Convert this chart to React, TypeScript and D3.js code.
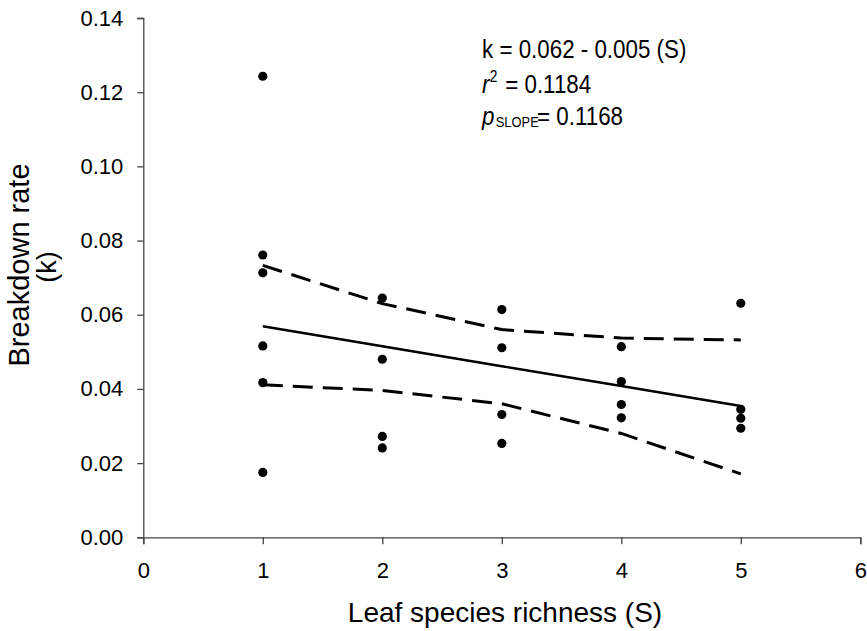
import React, { useRef, useEffect } from 'react';
import * as d3 from 'd3';

// leaf species richness (S) and the breakdown rates measured at each level
const richness = [1, 2, 3, 4, 5];
const rateS1 = [0.1243, 0.0761, 0.0713, 0.0516, 0.0417, 0.0175];
const rateS2 = [0.0645, 0.048, 0.0272, 0.0241];
const rateS3 = [0.0614, 0.0511, 0.0331, 0.0253];
const rateS4 = [0.0514, 0.042, 0.0358, 0.0322];
const rateS5 = [0.0631, 0.0345, 0.0321, 0.0294];

// fitted line and confidence band, read at each S
const fitted = [0.0569, 0.0515, 0.0461, 0.0408, 0.0354];
const upperBand = [0.0733, 0.063, 0.056, 0.0537, 0.0532];
const lowerBand = [0.0411, 0.0396, 0.036, 0.028, 0.0171];

const xTicks = [0, 1, 2, 3, 4, 5, 6];
const yTicks = [0, 0.02, 0.04, 0.06, 0.08, 0.1, 0.12, 0.14];

const W = 867, H = 631;
const FONT = '"Liberation Sans", Arial, sans-serif';

const App = () => {
    const ref = useRef<SVGSVGElement>(null);

    useEffect(() => {
        const svg = d3.select(ref.current);
        svg.selectAll('*').remove();

        const x = d3.scaleLinear().domain([0, 6]).range([143.3, 860.3]);
        const y = d3.scaleLinear().domain([0, 0.14]).range([537.3, 18]);

        // axes
        const yAxis = svg.append('g')
            .attr('transform', `translate(${x(0)},0)`)
            .call(d3.axisLeft(y).tickValues(yTicks).tickFormat(d3.format('.2f')).tickSize(6).tickPadding(14));
        const xAxis = svg.append('g')
            .attr('transform', `translate(0,${y(0)})`)
            .call(d3.axisBottom(x).tickValues(xTicks).tickFormat(d3.format('d')).tickSize(7).tickPadding(18));

        [yAxis, xAxis].forEach((ax) => {
            ax.selectAll('path, line').attr('stroke', '#444').attr('stroke-width', 1.3);
            ax.selectAll('text').attr('fill', '#000').style('font-size', '22px').style('font-family', FONT);
        });

        // confidence band and regression line
        const line = d3.line<number>()
            .x((d, i) => x(richness[i]))
            .y((d) => y(d));

        svg.append('path').attr('d', line(upperBand))
            .attr('fill', 'none').attr('stroke', '#000').attr('stroke-width', 3)
            .attr('stroke-dasharray', '20 10');
        svg.append('path').attr('d', line(lowerBand))
            .attr('fill', 'none').attr('stroke', '#000').attr('stroke-width', 3)
            .attr('stroke-dasharray', '20 10');
        svg.append('path').attr('d', line(fitted))
            .attr('fill', 'none').attr('stroke', '#000').attr('stroke-width', 2.4);

        // observations
        const groups = [rateS1, rateS2, rateS3, rateS4, rateS5];
        const points: { s: number; k: number }[] = [];
        groups.forEach((vals, i) => {
            vals.forEach((k) => points.push({ s: richness[i], k }));
        });

        svg.append('g').selectAll('circle')
            .data(points)
            .enter().append('circle')
            .attr('cx', (d) => x(d.s))
            .attr('cy', (d) => y(d.k))
            .attr('r', 4.6)
            .attr('fill', '#000');

        // axis titles
        svg.append('text')
            .attr('x', 505).attr('y', 622)
            .attr('text-anchor', 'middle')
            .style('font-family', FONT).style('font-size', '28px')
            .text('Leaf species richness (S)');

        const yTitle = svg.append('g').attr('transform', 'translate(0,265) rotate(-90)');
        yTitle.append('text')
            .attr('x', 0).attr('y', 29)
            .attr('text-anchor', 'middle')
            .style('font-family', FONT).style('font-size', '29px')
            .text('Breakdown rate');
        yTitle.append('text')
            .attr('x', -2).attr('y', 56)
            .attr('text-anchor', 'middle')
            .style('font-family', FONT).style('font-size', '27px')
            .text('(k)');

        // regression statistics
        const note = svg.append('g')
            .attr('transform', 'translate(482,0) scale(0.86,1)')
            .style('font-family', FONT).style('font-size', '26px');

        note.append('text').attr('x', 0).attr('y', 58).text('k = 0.062 - 0.005 (S)');

        const r2 = note.append('text').attr('y', 93);
        r2.append('tspan').attr('x', 0).style('font-style', 'italic').text('r');
        r2.append('tspan').attr('x', 9).attr('dy', -11).style('font-size', '16px').text('2');
        r2.append('tspan').attr('x', 27).attr('dy', 11).text('= 0.1184');

        const p = note.append('text').attr('y', 125);
        p.append('tspan').attr('x', 0).style('font-style', 'italic').text('p');
        p.append('tspan').attr('x', 16).attr('dy', 2).style('font-size', '15px').text('SLOPE');
        p.append('tspan').attr('x', 64).attr('dy', -2).text('= 0.1168');

    }, []);

    return (
        <svg ref={ref} width={W} height={H}
             style={{ position: 'absolute', left: 0, top: 0, background: '#fff' }} />
    );
}

export default App
